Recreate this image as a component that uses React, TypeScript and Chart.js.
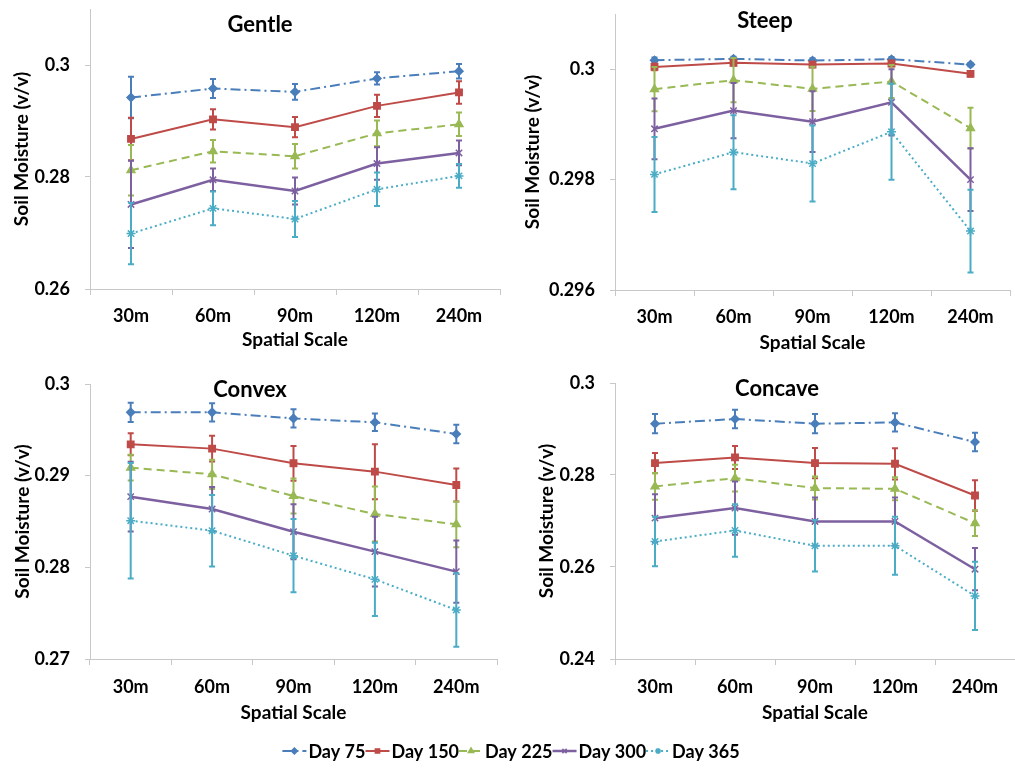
import React, { useEffect, useRef } from 'react';
import { Chart, registerables } from 'chart.js';
import { drawPoint } from 'chart.js/helpers';

Chart.register(...registerables);

// ---------- DATA ----------
const categories = ['30m', '60m', '90m', '120m', '240m'];
const seriesNames = ['Day 75', 'Day 150', 'Day 225', 'Day 300', 'Day 365'];

// Gentle
const gentleMeans = [
  [0.2942, 0.2958, 0.2952, 0.2976, 0.2989],
  [0.2868, 0.2903, 0.2889, 0.2927, 0.2951],
  [0.2812, 0.2846, 0.2837, 0.2878, 0.2894],
  [0.2751, 0.2795, 0.2775, 0.2824, 0.2843],
  [0.2699, 0.2744, 0.2725, 0.2778, 0.2802],
];
const gentleErrors = [
  [0.0037, 0.0017, 0.0014, 0.0011, 0.0013],
  [0.0038, 0.0018, 0.0018, 0.002, 0.002],
  [0.0045, 0.002, 0.0022, 0.0023, 0.0021],
  [0.0078, 0.002, 0.0024, 0.0029, 0.0022],
  [0.0055, 0.003, 0.0032, 0.003, 0.0021],
];
const gentleTicks = [0.26, 0.28, 0.3];

// Steep
const steepMeans = [
  [0.300163, 0.300187, 0.300157, 0.300181, 0.300084],
  [0.300042, 0.300115, 0.300084, 0.300103, 0.299916],
  [0.299638, 0.299801, 0.299644, 0.299777, 0.298932],
  [0.29892, 0.29925, 0.29905, 0.2994, 0.298],
  [0.298094, 0.298497, 0.298292, 0.298866, 0.297068],
];
const steepErrors = [
  [0.00005, 0.00004, 0.00004, 0.00004, 0.00003],
  [0.00006, 0.00005, 0.00005, 0.00005, 0.00005],
  [0.0004, 0.0004, 0.0004, 0.0003, 0.00037],
  [0.00055, 0.0005, 0.00055, 0.0006, 0.00057],
  [0.00068, 0.00067, 0.00069, 0.00087, 0.00075],
];
const steepTicks = [0.296, 0.298, 0.3];

// Convex
const convexMeans = [
  [0.29691, 0.29691, 0.29625, 0.29582, 0.29455],
  [0.29342, 0.29295, 0.29135, 0.29044, 0.28898],
  [0.29087, 0.29015, 0.28778, 0.28582, 0.28469],
  [0.28771, 0.28636, 0.28389, 0.28171, 0.27953],
  [0.28509, 0.284, 0.28127, 0.27869, 0.27535],
];
const convexErrors = [
  [0.00105, 0.001, 0.001, 0.00095, 0.001],
  [0.0012, 0.0014, 0.0019, 0.003, 0.0018],
  [0.0014, 0.0016, 0.0019, 0.003, 0.0025],
  [0.0038, 0.0024, 0.003, 0.0038, 0.0034],
  [0.0063, 0.0039, 0.004, 0.004, 0.004],
];
const convexTicks = [0.27, 0.28, 0.29, 0.3];

// Concave
const concaveMeans = [
  [0.29115, 0.29217, 0.29115, 0.29144, 0.28716],
  [0.28259, 0.28382, 0.28259, 0.28244, 0.27555],
  [0.27751, 0.27932, 0.27715, 0.277, 0.26953],
  [0.27062, 0.2728, 0.2699, 0.2699, 0.25952],
  [0.26554, 0.26794, 0.2646, 0.2646, 0.25372],
];
const concaveErrors = [
  [0.0021, 0.002, 0.0021, 0.002, 0.002],
  [0.0022, 0.0025, 0.0033, 0.0034, 0.0033],
  [0.0029, 0.0029, 0.0025, 0.0025, 0.0028],
  [0.0052, 0.0058, 0.0052, 0.0052, 0.0046],
  [0.0054, 0.0057, 0.0056, 0.0063, 0.0074],
];
const concaveTicks = [0.24, 0.26, 0.28, 0.3];

// ---------- STYLE ----------
const FONT = 'Lato';
const seriesColors = ['#4A7EBB', '#BE4B48', '#98B954', '#7D60A0', '#4BACC6'];
const seriesDash = [[10, 4, 2, 4], [], [8, 5], [], [2, 3]];
const seriesPointStyle = ['rectRot', 'rect', 'triangle', 'crossRot', 'star'];
const seriesPointRadius = [4, 4.5, 4.5, 4.5, 4.5];
const seriesLineWidth = [2, 2, 2, 2.5, 2];
const axisGray = '#C8C8C8';

const panels = [
  { title: 'Gentle', means: gentleMeans, errors: gentleErrors, ticks: gentleTicks, min: 0.26, max: 0.31,
    left: 0, top: 0, w: 507, h: 365, padTop: 9, padRight: 7, yWidth: 90, xHeight: 76,
    xTickPad: 10, xTitlePad: 13.6, yTitlePad: 10.6, tx: 260, ty: 25 },
  { title: 'Steep', means: steepMeans, errors: steepErrors, ticks: steepTicks, min: 0.296, max: 0.301,
    left: 507, top: 0, w: 508, h: 365, padTop: 14, padRight: 5, yWidth: 108, xHeight: 75,
    xTickPad: 10, xTitlePad: 10.6, yTitlePad: 14.6, tx: 258, ty: 21 },
  { title: 'Convex', means: convexMeans, errors: convexErrors, ticks: convexTicks, min: 0.27, max: 0.3,
    left: 0, top: 365, w: 507, h: 370, padTop: 19, padRight: 10, yWidth: 90, xHeight: 76,
    xTickPad: 11, xTitlePad: 10.6, yTitlePad: 11.6, tx: 250, ty: 25 },
  { title: 'Concave', means: concaveMeans, errors: concaveErrors, ticks: concaveTicks, min: 0.24, max: 0.3,
    left: 507, top: 365, w: 508, h: 370, padTop: 18, padRight: 0, yWidth: 108, xHeight: 76,
    xTickPad: 11, xTitlePad: 10.6, yTitlePad: 28.6, tx: 270, ty: 24 },
];

// ---------- PLUGINS ----------
const errorBarPlugin = {
  id: 'errorBars',
  beforeDatasetDraw(chart: any, args: any) {
    const ds: any = chart.data.datasets[args.index];
    const errs: number[] | undefined = ds.errors;
    if (!errs) return;
    const yScale = chart.scales.y;
    const ctx = chart.ctx;
    ctx.save();
    ctx.strokeStyle = ds.borderColor;
    ctx.lineWidth = 2;
    ctx.setLineDash([]);
    args.meta.data.forEach((pt: any, i: number) => {
      const v = ds.data[i];
      const e = errs[i];
      const yt = yScale.getPixelForValue(v + e);
      const yb = yScale.getPixelForValue(v - e);
      const x = pt.x;
      ctx.beginPath();
      ctx.moveTo(x, yt);
      ctx.lineTo(x, yb);
      ctx.moveTo(x - 3, yt);
      ctx.lineTo(x + 3, yt);
      ctx.moveTo(x - 3, yb);
      ctx.lineTo(x + 3, yb);
      ctx.stroke();
    });
    ctx.restore();
  },
};

const panelTitlePlugin = {
  id: 'panelTitle',
  afterDraw(chart: any, _args: any, opts: any) {
    const ctx = chart.ctx;
    ctx.save();
    ctx.font = `bold 22px ${FONT}`;
    ctx.fillStyle = '#000';
    ctx.textAlign = 'center';
    ctx.textBaseline = 'middle';
    ctx.fillText(opts.text, opts.x, opts.y);
    ctx.restore();
  },
};

const seriesLegendPlugin = {
  id: 'seriesLegend',
  afterDraw(chart: any, _args: any, opts: any) {
    const ctx = chart.ctx;
    const dsets = chart.data.datasets;
    ctx.save();
    ctx.font = `bold 18px ${FONT}`;
    const sample = 24;
    const gap = 2;
    const widths = dsets.map((d: any) => ctx.measureText(d.label).width);
    const total = widths.reduce((a: number, w: number) => a + sample + gap + w, 0);
    let x = opts.cx - total / 2;
    const y = opts.cy;
    dsets.forEach((d: any, i: number) => {
      ctx.strokeStyle = d.borderColor;
      ctx.lineWidth = d.borderWidth;
      ctx.setLineDash(d.borderDash || []);
      ctx.beginPath();
      ctx.moveTo(x, y);
      ctx.lineTo(x + sample, y);
      ctx.stroke();
      ctx.setLineDash([]);
      ctx.fillStyle = d.pointBackgroundColor;
      ctx.strokeStyle = d.pointBorderColor;
      ctx.lineWidth = 1.5;
      drawPoint(ctx, { pointStyle: d.pointStyle, radius: 3, rotation: 0, borderWidth: 1.5 } as any, x + sample / 2, y);
      ctx.fillStyle = '#000';
      ctx.textAlign = 'left';
      ctx.textBaseline = 'middle';
      ctx.fillText(d.label, x + sample + gap, y + 1);
      x += sample + gap + widths[i];
    });
    ctx.restore();
  },
};

function makeDatasets(means: number[][] | null, errors: number[][] | null) {
  return seriesNames.map((name, i) => ({
    label: name,
    data: means ? means[i] : [],
    errors: errors ? errors[i] : undefined,
    borderColor: seriesColors[i],
    backgroundColor: seriesColors[i],
    pointBackgroundColor: seriesColors[i],
    pointBorderColor: seriesColors[i],
    borderWidth: seriesLineWidth[i],
    borderDash: seriesDash[i],
    pointStyle: seriesPointStyle[i],
    pointRadius: seriesPointRadius[i],
    pointBorderWidth: 1.5,
    tension: 0,
    order: 5 - i,
  }));
}

function Panel({ cfg }: { cfg: any }) {
  const ref = useRef<HTMLCanvasElement>(null);
  useEffect(() => {
    const tickFont = { family: FONT, size: 18, weight: 'bold' as const };
    const titleFont = { family: FONT, size: 19, weight: 'bold' as const };
    const chart = new Chart(ref.current as HTMLCanvasElement, {
      type: 'line',
      data: { labels: categories, datasets: makeDatasets(cfg.means, cfg.errors) as any },
      options: {
        responsive: false,
        animation: false,
        devicePixelRatio: 1,
        layout: { padding: { top: cfg.padTop, right: cfg.padRight, left: 0, bottom: 0 }, autoPadding: false },
        plugins: {
          legend: { display: false },
          tooltip: { enabled: false },
          panelTitle: { text: cfg.title, x: cfg.tx, y: cfg.ty },
        } as any,
        scales: {
          x: {
            type: 'category',
            offset: true,
            grid: { display: true, offset: true, drawOnChartArea: false, drawTicks: true, tickLength: 6, color: axisGray, lineWidth: 1 },
            border: { display: true, color: axisGray, width: 1 },
            ticks: { font: tickFont, color: '#000', padding: cfg.xTickPad, maxRotation: 0, autoSkip: false },
            title: { display: true, text: 'Spatial Scale', font: titleFont, color: '#000', padding: { top: 0, bottom: cfg.xTitlePad } },
            afterFit: (s: any) => {
              s.height = cfg.xHeight;
              s.paddingLeft = 0;
              s.paddingRight = 0;
              s.paddingTop = 0;
              s.paddingBottom = 0;
            },
          },
          y: {
            type: 'linear',
            min: cfg.min,
            max: cfg.max,
            afterBuildTicks: (s: any) => { s.ticks = cfg.ticks.map((v: number) => ({ value: v })); },
            grid: { display: true, drawOnChartArea: false, drawTicks: true, tickLength: 5, color: axisGray, lineWidth: 1 },
            border: { display: true, color: axisGray, width: 1 },
            ticks: {
              font: tickFont,
              color: '#000',
              padding: 15,
              callback: (v: any) => String(Number(Number(v).toFixed(4))),
            },
            title: { display: true, text: 'Soil Moisture (v/v)', font: titleFont, color: '#000', padding: { top: cfg.yTitlePad, bottom: 0 } },
            afterFit: (s: any) => {
              s.width = cfg.yWidth;
              s.paddingTop = 0;
              s.paddingBottom = 0;
              s.paddingLeft = 0;
              s.paddingRight = 0;
            },
          },
        } as any,
      },
      plugins: [errorBarPlugin, panelTitlePlugin],
    });
    return () => chart.destroy();
  }, []);
  return (
    <canvas
      ref={ref}
      width={cfg.w}
      height={cfg.h}
      style={{ position: 'absolute', left: cfg.left, top: cfg.top, width: cfg.w, height: cfg.h }}
    />
  );
}

function LegendStrip() {
  const ref = useRef<HTMLCanvasElement>(null);
  useEffect(() => {
    const chart = new Chart(ref.current as HTMLCanvasElement, {
      type: 'line',
      data: { labels: [], datasets: makeDatasets(null, null) as any },
      options: {
        responsive: false,
        animation: false,
        devicePixelRatio: 1,
        plugins: {
          legend: { display: false },
          tooltip: { enabled: false },
          seriesLegend: { cx: 511, cy: 16 },
        } as any,
        scales: { x: { display: false }, y: { display: false } },
      },
      plugins: [seriesLegendPlugin],
    });
    return () => chart.destroy();
  }, []);
  return (
    <canvas ref={ref} width={1015} height={37} style={{ position: 'absolute', left: 0, top: 735, width: 1015, height: 37 }} />
  );
}

export default function App() {
  return (
    <div style={{ position: 'absolute', left: 0, top: 0, width: 1015, height: 772, background: '#fff', overflow: 'hidden' }}>
      {panels.map((p) => (
        <Panel key={p.title} cfg={p} />
      ))}
      <LegendStrip />
    </div>
  );
}
